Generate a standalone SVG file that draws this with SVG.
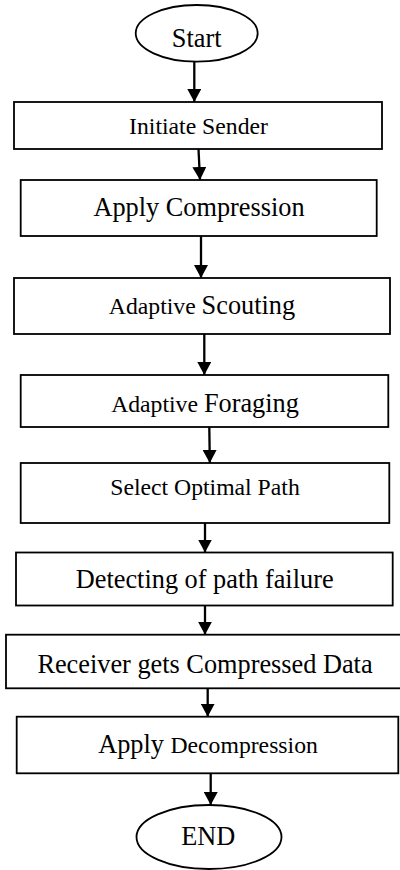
<svg xmlns="http://www.w3.org/2000/svg" width="400" height="870" viewBox="0 0 400 870">
<defs>
<style>
.b{fill:#fff;stroke:#000;stroke-width:1.8}
.t{font-family:"Liberation Serif","Times New Roman",serif;fill:#000;text-anchor:middle}
.L{font-size:26.3px}
.S{font-size:23.7px}
.c{stroke:#000;stroke-width:2.3;fill:none;marker-end:url(#ah)}
</style>
<marker id="ah" viewBox="0 0 13 14" refX="13" refY="7" markerWidth="13" markerHeight="14" markerUnits="userSpaceOnUse" orient="auto">
<path d="M0,0 L13,7 L0,14 z" fill="#000"/>
</marker>
</defs>
<rect width="400" height="870" fill="#fff"/>
<g id="start"><ellipse class="b" cx="196.7" cy="33.3" rx="61" ry="28.3"/><text class="t L" x="196.7" y="46.7">Start</text></g>
<g id="initiate"><rect class="b" x="14" y="102" width="368" height="47"/><text class="t S" x="198.5" y="134">Initiate Sender</text></g>
<g id="compress"><rect class="b" x="20.7" y="180" width="356" height="56"/><text class="t L" x="199" y="216">Apply Compression</text></g>
<g id="scouting"><rect class="b" x="14" y="278" width="376" height="56"/><text class="t" x="202" y="314"><tspan class="S">Adaptive </tspan><tspan class="L">Scouting</tspan></text></g>
<g id="foraging"><rect class="b" x="20.7" y="375" width="367.6" height="52"/><text class="t" x="205" y="412"><tspan class="S">Adaptive </tspan><tspan class="L">Foraging</tspan></text></g>
<g id="select"><rect class="b" x="20.7" y="463" width="368.6" height="60"/><text class="t S" x="205" y="495">Select Optimal Path</text></g>
<g id="detect"><rect class="b" x="16" y="552.5" width="376.7" height="53"/><text class="t L" x="204.7" y="588">Detecting of path failure</text></g>
<g id="receiver"><rect class="b" x="6" y="634.7" width="396" height="53.6"/><text class="t L" x="205" y="673">Receiver gets Compressed Data</text></g>
<g id="decompress"><rect class="b" x="16.7" y="716.7" width="381.6" height="56.6"/><text class="t" x="208" y="752.7"><tspan class="L">Apply </tspan><tspan class="S">Decompression</tspan></text></g>
<g id="end"><ellipse class="b" cx="209" cy="837" rx="72.5" ry="32"/><text class="t L" x="208.3" y="845">END</text></g>
<g id="connectors">
<line class="c" x1="194.3" y1="61.7" x2="194.3" y2="102"/>
<line class="c" x1="198.5" y1="149" x2="200" y2="180"/>
<line class="c" x1="201" y1="236" x2="201" y2="278"/>
<line class="c" x1="204.3" y1="334" x2="204.3" y2="375"/>
<line class="c" x1="209.3" y1="427" x2="209.8" y2="463"/>
<line class="c" x1="205" y1="523" x2="205" y2="552.5"/>
<line class="c" x1="205" y1="605.5" x2="205" y2="634.7"/>
<line class="c" x1="207.7" y1="688.3" x2="207.7" y2="716.7"/>
<line class="c" x1="210.7" y1="773.3" x2="210.7" y2="805"/>
</g>
</svg>
